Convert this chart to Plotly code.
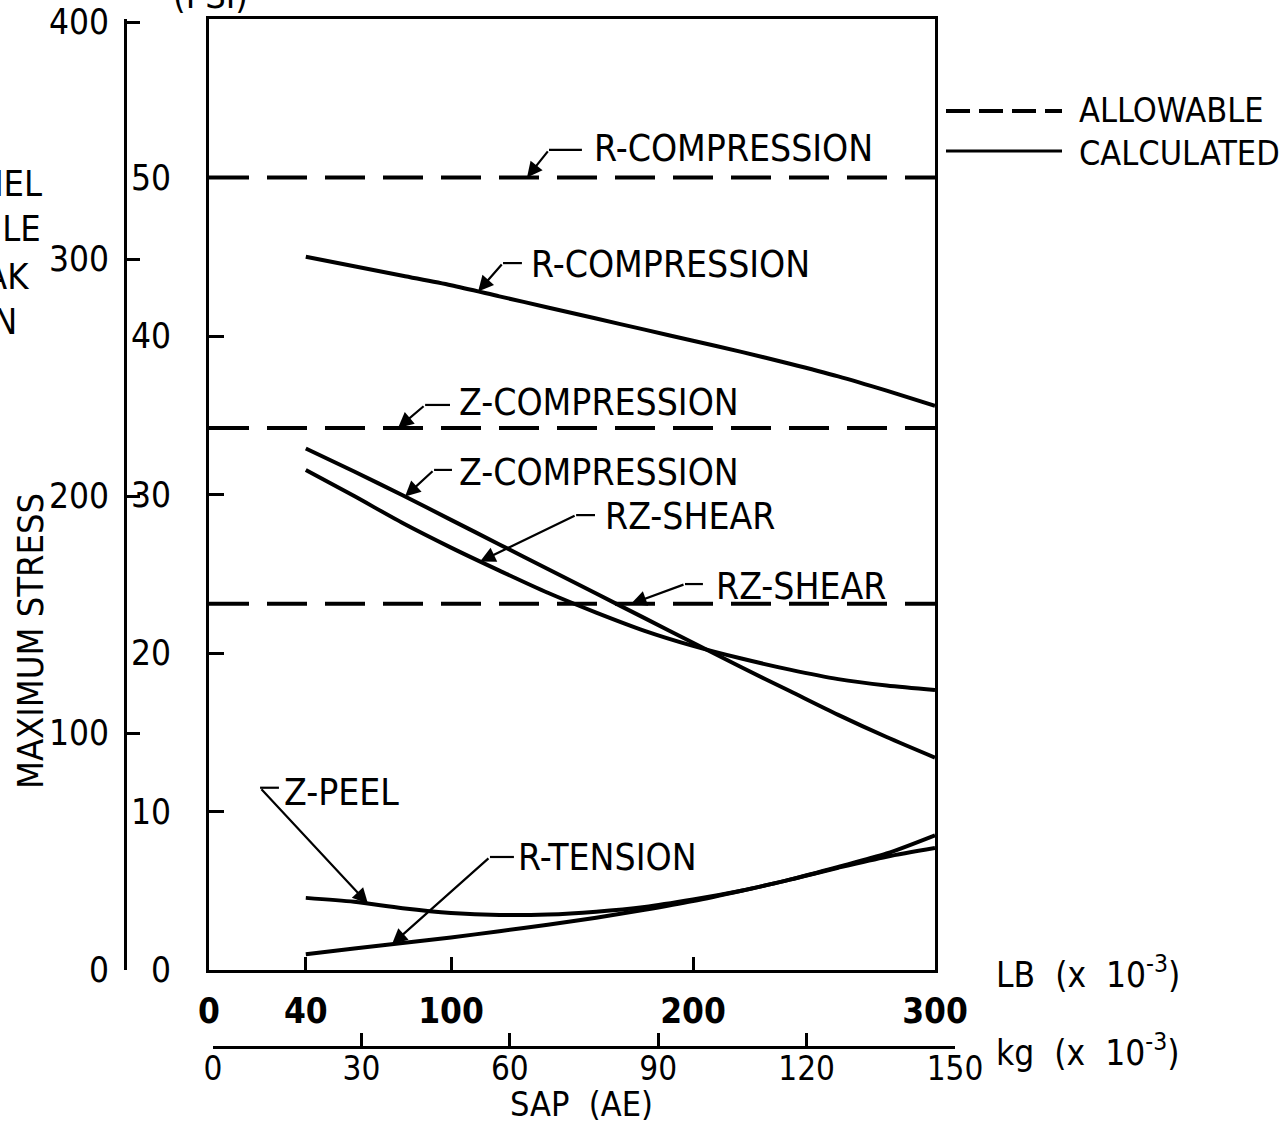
import numpy as np
import plotly.graph_objects as go

# ---- data -------------------------------------------------------------
# vehicle weight, lb x 10^-3
weight_lb = [40, 60, 80, 100, 120, 140, 160, 180, 200, 220, 240, 260, 280, 300]

# calculated maximum stresses (psi)
r_compression = [45.0, 44.4, 43.8, 43.2, 42.5, 41.8, 41.1, 40.4, 39.7, 39.0, 38.25, 37.45, 36.55, 35.6]
z_compression = [32.9, 31.45, 29.95, 28.4, 26.85, 25.3, 23.75, 22.2, 20.65, 19.1, 17.6, 16.1, 14.7, 13.4]
rz_shear = [31.55, 29.9, 28.2, 26.65, 25.2, 23.8, 22.55, 21.4, 20.45, 19.65, 18.95, 18.35, 17.95, 17.67]
z_peel = [4.55, 4.3, 3.9, 3.6, 3.47, 3.5, 3.68, 3.98, 4.45, 5.0, 5.7, 6.45, 7.15, 7.7]
r_tension = [1.0, 1.35, 1.7, 2.05, 2.45, 2.85, 3.3, 3.8, 4.35, 5.0, 5.7, 6.5, 7.35, 8.5]

# allowable stresses (psi), constant over the weight range
allow_span = [0, 300]
allow_r_compression = 50.0
allow_z_compression = 34.2
allow_rz_shear = 23.1

# axis ticks
psi_ticks = [0, 10, 20, 30, 40, 50]
kn_ticks = [0, 100, 200, 300, 400]
lb_ticks = [0, 40, 100, 200, 300]
kg_ticks = [0, 30, 60, 90, 120, 150]

# ---- page geometry ----------------------------------------------------
W, H = 1288, 1121
ML, MR, MT, MB = 100, 333, 19, 74
PW, PH = W - ML - MR, H - MT - MB
FONT = "Liberation Sans Narrow, DejaVu Sans Condensed, Arial Narrow, sans-serif"


def px_x(px):
    return (px - ML) / PW


def px_y(py):
    return (H - MB - py) / PH


fig = go.Figure()

line_style = dict(color="black", width=4, shape="spline", smoothing=0.8)
for vals in [r_compression, z_compression, rz_shear, z_peel, r_tension]:
    fig.add_trace(go.Scatter(x=weight_lb, y=vals, mode="lines", line=line_style,
                             showlegend=False, hoverinfo="skip"))

for level in [allow_r_compression, allow_z_compression, allow_rz_shear]:
    fig.add_trace(go.Scatter(x=allow_span, y=[level, level], mode="lines",
                             line=dict(color="black", width=4, dash="40px,18px"),
                             showlegend=False, hoverinfo="skip"))

# carriers for the secondary scales (kN/m^2 and kg)
fig.add_trace(go.Scatter(x=[0], y=[0], xaxis="x", yaxis="y2", mode="markers",
                         marker=dict(opacity=0), showlegend=False, hoverinfo="skip"))
fig.add_trace(go.Scatter(x=[0], y=[0], xaxis="x2", yaxis="y", mode="markers",
                         marker=dict(opacity=0), showlegend=False, hoverinfo="skip"))

tick_font = dict(family=FONT, size=35, color="black")
axis_common = dict(showgrid=False, zeroline=False, showline=True, linewidth=3,
                   linecolor="black", ticks="inside", tickwidth=3, tickcolor="black")

fig.update_layout(
    width=W, height=H,
    margin=dict(l=ML, r=MR, t=MT, b=MB, autoexpand=False),
    paper_bgcolor="white", plot_bgcolor="rgba(0,0,0,0)",
    showlegend=False,
    font=dict(family=FONT, color="black"),
    xaxis=dict(domain=[px_x(209), px_x(935)], range=[0, 300], tickvals=lb_ticks,
               ticklen=13, mirror=True, anchor="y",
               tickfont=dict(family=FONT, size=35, color="black", weight="bold"),
               ticklabelstandoff=8, **axis_common),
    xaxis2=dict(domain=[px_x(213), 1], range=[0, 150], tickvals=kg_ticks,
                anchor="free", position=0, ticklen=13,
                tickfont=dict(family=FONT, size=33, color="black"),
                ticklabelstandoff=-9, **axis_common),
    yaxis=dict(domain=[px_y(970), 1], range=[0, 60], tickvals=psi_ticks,
               ticklen=15, mirror=True, anchor="x", tickfont=tick_font,
               ticklabelstandoff=28, **axis_common),
    yaxis2=dict(overlaying="y", anchor="free", position=px_x(125), side="left",
                range=[0, 400 * 951 / 948], tickvals=kn_ticks, ticklen=13,
                tickfont=tick_font, ticklabelstandoff=8, **axis_common),
)

# ---- curve labels with leader arrows -----------------------------------
# (text, text_x, text_y, elbow_x, elbow_y, stub_end_x, tip_x, tip_y)
labels = [
    ("R-COMPRESSION", 158.3, 51.8, 140.5, 51.74, 154.1, 131.4, allow_r_compression),
    ("R-COMPRESSION", 132.2, 44.5, 121.5, 44.6, 129.3, 111.2, np.interp(111.2, weight_lb, r_compression)),
    ("Z-COMPRESSION", 102.5, 35.8, 89.3, 35.65, 99.6, 78.1, allow_z_compression),
    ("Z-COMPRESSION", 102.5, 31.4, 93.0, 31.55, 100.4, 81.0, np.interp(81.0, weight_lb, z_compression)),
    ("RZ-SHEAR", 162.8, 28.6, 151.7, 28.7, 159.5, 112.0, np.interp(112.0, weight_lb, rz_shear)),
    ("RZ-SHEAR", 208.7, 24.2, 196.7, 24.35, 204.1, 174.4, allow_rz_shear),
    ("Z-PEEL", 30.2, 11.2, 21.1, 11.5, 28.9, 65.7, np.interp(65.7, weight_lb, z_peel)),
    ("R-TENSION", 126.9, 7.1, 116.1, 7.13, 126.0, 75.6, np.interp(75.6, weight_lb, r_tension)),
]

annotations = []
shapes = []
for text, tx, ty, ex, ey, sx, ax_, ay_ in labels:
    annotations.append(dict(x=tx, y=ty, xref="x", yref="y", text=text, showarrow=False,
                            xanchor="left", yanchor="middle",
                            font=dict(family=FONT, size=37, color="black")))
    annotations.append(dict(x=ax_, y=ay_, xref="x", yref="y", ax=ex, ay=ey,
                            axref="x", ayref="y", text="", showarrow=True,
                            arrowhead=2, arrowsize=1.4, arrowwidth=2.2,
                            arrowcolor="black", standoff=0))
    shapes.append(dict(type="line", xref="x", yref="y", x0=ex, y0=ey, x1=sx, y1=ey,
                       line=dict(color="black", width=2.2)))

# ---- legend ------------------------------------------------------------
shapes.append(dict(type="line", xref="paper", yref="paper",
                   x0=px_x(946), x1=px_x(1062), y0=px_y(111), y1=px_y(111),
                   line=dict(color="black", width=4, dash="24px,9px")))
shapes.append(dict(type="line", xref="paper", yref="paper",
                   x0=px_x(946), x1=px_x(1062), y0=px_y(151), y1=px_y(151),
                   line=dict(color="black", width=3)))


def page_text(text, x, y, size=36, xanchor="left", yanchor="middle", angle=0):
    annotations.append(dict(x=px_x(x), y=px_y(y), xref="paper", yref="paper", text=text,
                            showarrow=False, xanchor=xanchor, yanchor=yanchor,
                            textangle=angle, font=dict(family=FONT, size=size, color="black")))


page_text("ALLOWABLE", 1077, 110, size=34)
page_text("CALCULATED", 1077, 153, size=34)
page_text("MAXIMUM STRESS", 30, 641, size=36, xanchor="center", yanchor="middle", angle=-90)
page_text("SAP  (AE)", 581, 1104, size=34, xanchor="center")
page_text("LB  (x  10<sup>-3</sup>)", 994, 972, size=35)
page_text("kg  (x  10<sup>-3</sup>)", 994, 1050, size=35)
page_text("(PSI)", 210, 18, size=36, xanchor="center", yanchor="bottom")
page_text("PANEL", 44, 183, size=36, xanchor="right")
page_text("TILE", 43, 228, size=36, xanchor="right")
page_text("PEAK", 31, 276, size=36, xanchor="right")
page_text("N", 19, 322, size=36, xanchor="right")

fig.update_layout(annotations=annotations, shapes=shapes)

fig.write_html("out.html")
